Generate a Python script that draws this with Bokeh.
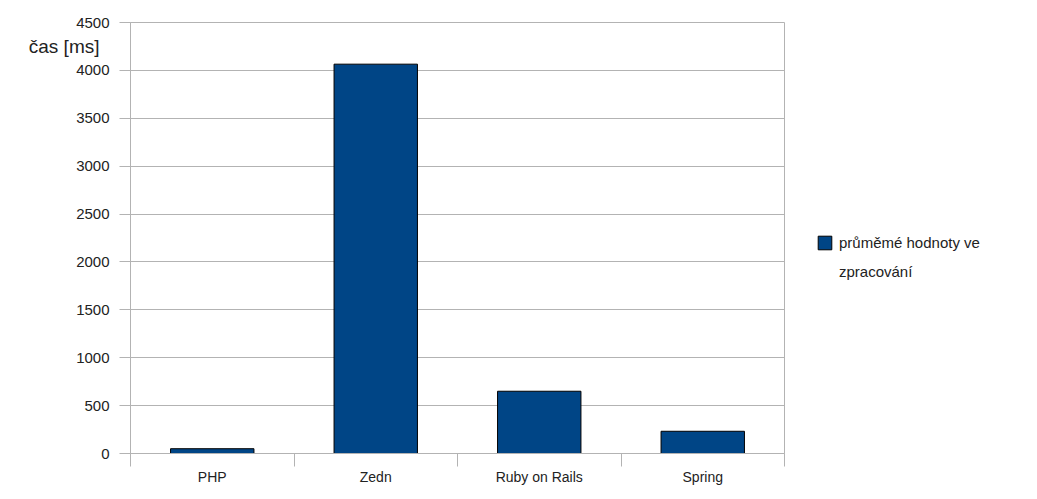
import numpy as np
from bokeh.plotting import figure
from bokeh.models import (Range1d, FixedTicker, Legend, LegendItem, LinearAxis,
                          ColumnDataSource)
from bokeh.embed import file_html
from bokeh.resources import INLINE

# ---- data ----
categories = ["PHP", "Zedn", "Ruby on Rails", "Spring"]
values = [50, 4065, 650, 232]
series_lines = ["průměmé hodnoty ve", "zpracování"]
y_ticks = [0, 500, 1000, 1500, 2000, 2500, 3000, 3500, 4000, 4500]
y_label = "čas [ms]"
y_label_at = 4250

FONT = "Liberation Sans"
GRID = "#b3b3b3"
BAR = "#004586"
TXT = "#222222"

centers = [i + 0.5 for i in range(len(categories))]
bounds = list(range(len(categories) + 1))

src = ColumnDataSource(dict(x=centers, top=values, cat=categories))

p = figure(frame_width=654, frame_height=431, output_backend="svg",
           toolbar_location=None,
           x_range=Range1d(0, len(categories)), y_range=Range1d(0, 4500),
           min_border_left=130, min_border_right=237, min_border_top=22,
           min_border_bottom=30, y_axis_location=None)

r = p.vbar(x="x", top="top", width=0.51, source=src, fill_color=BAR,
           line_color="black", line_width=1)
# invisible stand-in so the legend's second text line has no swatch
r_blank = p.vbar(x=[], top=[], width=0.51, fill_alpha=0, line_alpha=0)

# x axis
xa = p.xaxis[0]
xa.ticker = FixedTicker(ticks=centers, minor_ticks=bounds)
xa.major_label_overrides = {c: n for c, n in zip(centers, categories)}
xa.major_tick_line_color = None
xa.major_tick_out = 12
xa.major_tick_in = 0
xa.minor_tick_line_color = GRID
xa.minor_tick_out = 13
xa.minor_tick_in = 0
xa.axis_line_color = GRID
xa.major_label_standoff = 2
xa.major_label_text_font = FONT
xa.major_label_text_font_size = "14px"
xa.major_label_text_color = TXT

# y axis (inner)
ya = LinearAxis(ticker=FixedTicker(ticks=y_ticks),
                major_tick_line_color=GRID, major_tick_out=11, major_tick_in=0,
                minor_tick_line_color=None, axis_line_color=GRID,
                major_label_standoff=10, major_label_text_font=FONT,
                major_label_text_font_size="15px", major_label_text_color=TXT)
p.add_layout(ya, "left")

# outer left axis carrying the horizontal y-axis title
ta = LinearAxis(ticker=FixedTicker(ticks=[y_label_at]),
                major_label_overrides={y_label_at: y_label},
                major_tick_line_color=None, major_tick_out=0, major_tick_in=0,
                minor_tick_line_color=None, axis_line_color=None,
                major_label_standoff=-26, major_label_text_font=FONT,
                major_label_text_font_size="19px", major_label_text_color=TXT)
p.add_layout(ta, "left")

p.xgrid.grid_line_color = None
p.ygrid.grid_line_color = GRID
p.ygrid.ticker = FixedTicker(ticks=y_ticks)
p.outline_line_color = GRID
p.background_fill_color = "white"
p.border_fill_color = "white"

legend = Legend(items=[LegendItem(label=series_lines[0], renderers=[r]),
                       LegendItem(label=series_lines[1], renderers=[r_blank])],
                location=(32, 173), border_line_color=None,
                background_fill_alpha=0, padding=0, margin=0, spacing=12,
                glyph_width=17, glyph_height=17, label_standoff=6,
                label_text_font=FONT, label_text_font_size="15px",
                label_text_color=TXT)
p.add_layout(legend, "right")

open("out.html", "w").write(file_html(p, INLINE))
